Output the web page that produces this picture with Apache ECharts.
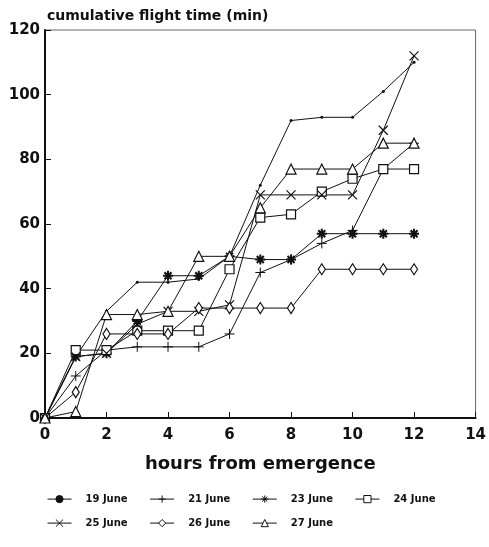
<!DOCTYPE html>
<html>
<head>
<meta charset="utf-8">
<script src="https://cdn.jsdelivr.net/npm/echarts@6/dist/echarts.min.js"></script>
<style>
  html, body { margin: 0; padding: 0; background: #fff; }
  #main { width: 489px; height: 547px; }
</style>
</head>
<body>
<div id="main"></div>
<script>
var chart = echarts.init(document.getElementById('main'));

// data
var hours = [0, 1, 2, 3, 4, 5, 6, 7, 8, 9, 10, 11, 12];
var june19 = [0, 19, 33, 42, 42, 43, 50, 72, 92, 93, 93, 101, 110];
var june21 = [0, 13, 21, 22, 22, 22, 26, 45, 49, 54, 58, 77, 85];
var june23 = [0, 19, 20, 30, 44, 44, 50, 49, 49, 57, 57, 57, 57];
var june24 = [0, 21, 21, 27, 27, 27, 46, 62, 63, 70, 74, 77, 77];
var june25 = [0, 19, 20, 29, 33, 33, 35, 69, 69, 69, 69, 89, 112];
var june26 = [0, 8, 26, 26, 26, 34, 34, 34, 34, 46, 46, 46, 46];
var june27 = [0, 2, 32, 32, 33, 50, 50, 65, 77, 77, 77, 85, 85];
var names = ['19 June', '21 June', '23 June', '24 June', '25 June', '26 June', '27 June'];

var font = '"DejaVu Sans", sans-serif';

function pairs(vals) {
    return hours.map(function (h, i) { return [h, vals[i]]; });
}

function mk(name, vals, symbol, size, fill, bw) {
    return {
        name: name,
        type: 'line',
        data: pairs(vals),
        symbol: symbol,
        symbolSize: size,
        showAllSymbol: true,
        lineStyle: { color: '#111', width: 1 },
        itemStyle: { color: fill, borderColor: '#111', borderWidth: bw },
        emphasis: { disabled: true },
        animation: false
    };
}

var series = [
    mk(names[0], june19, 'circle', 3, '#111', 0),
    mk(names[1], june21, 'path://M0,5L10,5M5,0L5,10', 10, 'none', 1),
    mk(names[2], june23, 'path://M0,5L10,5M5,0L5,10M1.5,1.5L8.5,8.5M8.5,1.5L1.5,8.5', 10, 'none', 2),
    mk(names[3], june24, 'rect', 9, '#fff', 1.2),
    mk(names[4], june25, 'path://M0,0L10,10M10,0L0,10', 9, 'none', 1.2),
    mk(names[5], june26, 'diamond', [7, 11], '#fff', 1.2),
    mk(names[6], june27, 'triangle', 10, '#fff', 1.2)
];

var legendText = { fontFamily: font, fontWeight: 'bold', fontSize: 10, color: '#111', padding: [0, 0, 0, 9] };
var legendLine = { width: 1, color: '#111' };

option = {
    backgroundColor: '#fff',
    grid: {
        left: 45, right: 11, top: 30, bottom: 129,
        show: true, borderColor: '#666', borderWidth: 1
    },
    title: {
        text: 'cumulative flight time (min)',
        left: 42, top: 4,
        textStyle: { fontFamily: font, fontWeight: 'bold', fontSize: 14, color: '#111' }
    },
    legend: [{
        data: names.slice(0, 4),
        left: 42, top: 488,
        itemWidth: 24, itemHeight: 9, itemGap: 22,
        lineStyle: legendLine,
        itemStyle: { borderWidth: 1 },
        textStyle: legendText
    }, {
        data: names.slice(4),
        left: 42, top: 512,
        itemWidth: 24, itemHeight: 9, itemGap: 22,
        lineStyle: legendLine,
        itemStyle: { borderWidth: 1 },
        textStyle: legendText
    }],
    xAxis: {
        type: 'value',
        min: 0, max: 14, interval: 2,
        name: 'hours from emergence',
        nameLocation: 'middle',
        nameGap: 37,
        nameTextStyle: { fontFamily: font, fontWeight: 'bold', fontSize: 18, color: '#111' },
        axisLine: { lineStyle: { color: '#111', width: 2 } },
        axisTick: { inside: true, length: 6, lineStyle: { color: '#111' } },
        axisLabel: { fontFamily: font, fontWeight: 'bold', fontSize: 15, color: '#111', margin: 10 },
        splitLine: { show: false }
    },
    yAxis: {
        type: 'value',
        min: 0, max: 120, interval: 20,
        axisLine: { show: true, lineStyle: { color: '#111', width: 2 } },
        axisTick: { show: true, inside: true, length: 6, lineStyle: { color: '#111' } },
        axisLabel: { fontFamily: font, fontWeight: 'bold', fontSize: 15, color: '#111', margin: 5 },
        splitLine: { show: false }
    },
    series: series
};
chart.setOption(option);
</script>
</body>
</html>
